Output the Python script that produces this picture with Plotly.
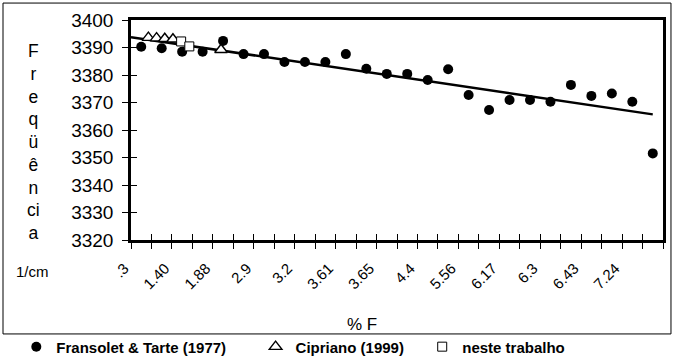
import numpy as np
import plotly.graph_objects as go

# ---- data ----
category_index = list(range(1, 27))
fransolet_freq = [3390.3, 3389.7, 3388.5, 3388.5, 3392.4, 3387.6, 3387.6, 3384.7,
                  3384.7, 3384.7, 3387.6, 3382.3, 3380.4, 3380.4, 3378.2, 3382.1,
                  3372.7, 3367.3, 3370.9, 3370.9, 3370.3, 3376.4, 3372.4, 3373.3,
                  3370.3, 3351.5]
cipriano_pos = [1.35, 1.75, 2.15, 2.55, 4.9]
cipriano_freq = [3393.6, 3393.4, 3393.2, 3393.0, 3389.2]
neste_pos = [2.95, 3.35]
neste_freq = [3392.2, 3390.4]
tick_pos = [1, 3, 5, 7, 9, 11, 13, 15, 17, 19, 21, 23, 25]
tick_labels = [".3", "1.40", "1.88", "2.9", "3.2", "3.61", "3.65", "4.4",
               "5.56", "6.17", "6.3", "6.43", "7.24"]
y_ticks = [3320, 3330, 3340, 3350, 3360, 3370, 3380, 3390, 3400]

FONT = "Liberation Sans, Arial, sans-serif"

# linear trend of the Fransolet series (extended half a category backward)
slope, intercept = np.polyfit(category_index, fransolet_freq, 1)
trend_x = [0.5, 26]
trend_y = [slope * v + intercept for v in trend_x]

cat_bounds = [i + 0.5 for i in range(27)]

fig = go.Figure()
fig.add_trace(go.Scatter(x=trend_x, y=trend_y, mode="lines",
                         line=dict(color="black", width=2.5), showlegend=False,
                         hoverinfo="skip"))
fig.add_trace(go.Scatter(x=category_index, y=fransolet_freq, mode="markers",
                         name="Fransolet & Tarte (1977)",
                         marker=dict(symbol="circle", size=10, color="black"),
                         legend="legend"))
fig.add_trace(go.Scatter(x=cipriano_pos, y=cipriano_freq, mode="markers",
                         name="Cipriano (1999)",
                         marker=dict(symbol="triangle-up", size=11, color="white",
                                     line=dict(color="black", width=1.4)),
                         legend="legend2"))
fig.add_trace(go.Scatter(x=neste_pos, y=neste_freq, mode="markers",
                         name="neste trabalho",
                         marker=dict(symbol="square", size=9, color="white",
                                     line=dict(color="black", width=1)),
                         legend="legend3"))
fig.add_trace(go.Scatter(x=[], y=[], xaxis="x2", yaxis="y2", showlegend=False))

legend_common = dict(orientation="h", yanchor="middle", xanchor="left",
                     bgcolor="rgba(0,0,0,0)", borderwidth=0,
                     font=dict(family=FONT, size=15, color="black", weight="bold"))

fig.update_layout(
    width=681, height=357,
    margin=dict(l=131, r=18, t=20, b=117, autoexpand=False),
    paper_bgcolor="white", plot_bgcolor="white",
    font=dict(family=FONT, color="black"),
    xaxis=dict(range=[0.5, 26.5], tickmode="array", tickvals=tick_pos,
               ticktext=tick_labels, tickangle=-45, ticks="", showgrid=False,
               zeroline=False, showline=True, linecolor="black", linewidth=2.5,
               mirror=True, tickfont=dict(family=FONT, size=15, color="black"),
               ticklabelshift=-17, ticklabelstandoff=11,
               minor=dict(tickmode="array", tickvals=cat_bounds,
                          ticks="outside", ticklen=6, tickwidth=1, tickcolor="black")),
    xaxis2=dict(overlaying="x", anchor="y", range=[0.5, 26.5], tickmode="array",
                tickvals=cat_bounds, ticks="inside", ticklen=6,
                tickwidth=1, tickcolor="black", showticklabels=False,
                showgrid=False, zeroline=False, showline=False, side="bottom"),
    yaxis=dict(range=[3320, 3400], tickmode="array", tickvals=y_ticks,
               ticks="outside", ticklen=6, tickwidth=1, tickcolor="black",
               showgrid=False, zeroline=False, showline=True, linecolor="black",
               linewidth=2.5, mirror=True, ticklabelstandoff=5,
               tickfont=dict(family=FONT, size=19, color="black")),
    yaxis2=dict(overlaying="y", anchor="x", range=[3320, 3400], tickmode="array",
                tickvals=y_ticks, ticks="inside", ticklen=6, tickwidth=1,
                tickcolor="black", showticklabels=False, showgrid=False,
                zeroline=False, showline=False, side="left"),
    legend=dict(x=-0.2156, y=-0.486, **legend_common),
    legend2=dict(x=0.2342, y=-0.486, **legend_common),
    legend3=dict(x=0.5474, y=-0.486, **legend_common),
    showlegend=True,
)

fig.add_annotation(text="F<br>r<br>e<br>q<br>ü<br>ê<br>n<br>ci<br>a",
                   xref="paper", yref="paper", x=-0.1842, y=0.4477,
                   xanchor="center", yanchor="middle",
                   showarrow=False, font=dict(family=FONT, size=17.5, color="black"),
                   align="center")
fig.add_annotation(text="1/cm", xref="paper", yref="paper", x=-0.186, y=-0.141,
                   xanchor="center", yanchor="middle",
                   showarrow=False, font=dict(family=FONT, size=15, color="black"))
fig.add_annotation(text="% F", xref="paper", yref="paper", x=0.434, y=-0.386,
                   xanchor="center", yanchor="middle",
                   showarrow=False, font=dict(family=FONT, size=17, color="black"))
fig.add_shape(type="rect", xref="paper", yref="paper", x0=-0.2406, x1=1.015,
              y0=-0.427, y1=1.077, line=dict(color="black", width=1),
              fillcolor="rgba(0,0,0,0)", layer="below")

fig.write_html("out.html", config={"displayModeBar": False},
               post_script="document.body.style.margin='0';document.body.style.overflow='hidden';")
